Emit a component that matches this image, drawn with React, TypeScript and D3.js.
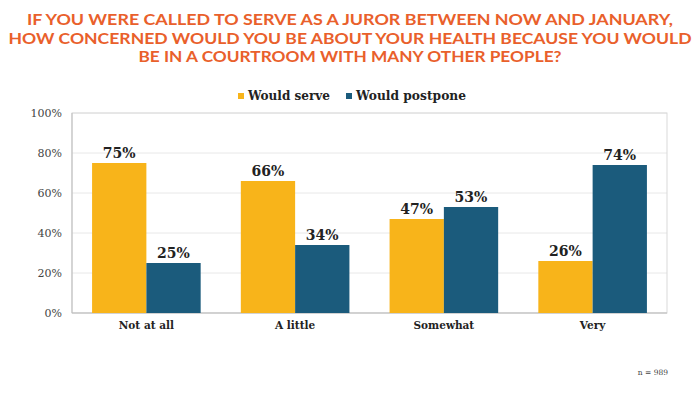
import React from "react";
import * as d3 from "d3";

const categories = ["Not at all", "A little", "Somewhat", "Very"];
const seriesNames = ["Would serve", "Would postpone"];
const wouldServe = [75, 66, 47, 26];
const wouldPostpone = [25, 34, 53, 74];
const yTicks = [0, 20, 40, 60, 80, 100];
const titleLines = [
  "IF YOU WERE CALLED TO SERVE AS A JUROR BETWEEN NOW AND JANUARY,",
  "HOW CONCERNED WOULD YOU BE ABOUT YOUR HEALTH BECAUSE YOU WOULD",
  "BE IN A COURTROOM WITH MANY OTHER PEOPLE?",
];
const titleWidths = [646, 683, 423];

const colors = ["#F8B41A", "#1B5B7C"];
const serif = "Georgia, 'DejaVu Serif', serif";

const App = () => {
  const width = 700;
  const height = 394;
  const margin = { left: 72, right: 33, top: 113, bottom: 81 };
  const plotW = width - margin.left - margin.right;
  const plotH = height - margin.top - margin.bottom;

  const x0 = d3.scaleBand().domain(categories).range([0, plotW]).paddingInner(0.27).paddingOuter(0.135);
  const x1 = d3.scaleBand().domain(seriesNames).range([0, x0.bandwidth()]);
  const y = d3.scaleLinear().domain([0, 100]).range([plotH, 0]);

  const series = [wouldServe, wouldPostpone];

  return (
    <svg width={width} height={height} style={{ display: "block", position: "absolute", left: 0, top: 0 }}>
      <rect width={width} height={height} fill="#fff" />
      {titleLines.map((t, i) => (
        <text
          key={i}
          x={width / 2}
          y={25 + i * 18.5}
          textAnchor="middle"
          fontFamily="Lato, 'Open Sans', sans-serif"
          fontWeight="bold"
          fontSize={16}
          fill="#E9602B"
          textLength={titleWidths[i]}
          lengthAdjust="spacingAndGlyphs"
        >
          {t}
        </text>
      ))}

      <g fontFamily={serif} fontWeight="bold" fontSize={13} fill="#222">
        <rect x={238} y={93} width={6} height={6} fill={colors[0]} />
        <text x={248} y={100} textLength={82} lengthAdjust="spacingAndGlyphs">{seriesNames[0]}</text>
        <rect x={346} y={93} width={6} height={6} fill={colors[1]} />
        <text x={356} y={100} textLength={110} lengthAdjust="spacingAndGlyphs">{seriesNames[1]}</text>
      </g>

      <g transform={`translate(${margin.left},${margin.top})`}>
        {yTicks.map((t) => (
          <g key={t}>
            <line x1={0} x2={plotW} y1={y(t)} y2={y(t)} stroke="#e8e8e8" />
            <text x={-10} y={y(t) + 4} textAnchor="end" fontFamily={serif} fontSize={11} fill="#444">
              {t}%
            </text>
          </g>
        ))}
        <rect x={0} y={0} width={plotW} height={plotH} fill="none" stroke="#d9d9d9" />
        <line x1={0} x2={0} y1={0} y2={plotH} stroke="#bdbdbd" />
        <line x1={0} x2={plotW} y1={plotH} y2={plotH} stroke="#bdbdbd" />

        {categories.map((c, ci) => (
          <g key={c} transform={`translate(${x0(c)},0)`}>
            {seriesNames.map((s, si) => {
              const v = series[si][ci];
              const bx = x1(s)!;
              return (
                <g key={s}>
                  <rect x={bx} y={y(v)} width={x1.bandwidth()} height={plotH - y(v)} fill={colors[si]} />
                  <text
                    x={bx + x1.bandwidth() / 2}
                    y={y(v) - 5}
                    textAnchor="middle"
                    fontFamily={serif}
                    fontWeight="bold"
                    fontSize={14}
                    fill="#222"
                  >
                    {v}%
                  </text>
                </g>
              );
            })}
            <text
              x={x0.bandwidth() / 2}
              y={plotH + 16}
              textAnchor="middle"
              fontFamily={serif}
              fontWeight="bold"
              fontSize={10.5}
              fill="#222"
            >
              {c}
            </text>
          </g>
        ))}
      </g>

      <text x={668} y={375} textAnchor="end" fontFamily={serif} fontSize={7.5} fill="#444">
        n = 989
      </text>
    </svg>
  );
};

export default App;
